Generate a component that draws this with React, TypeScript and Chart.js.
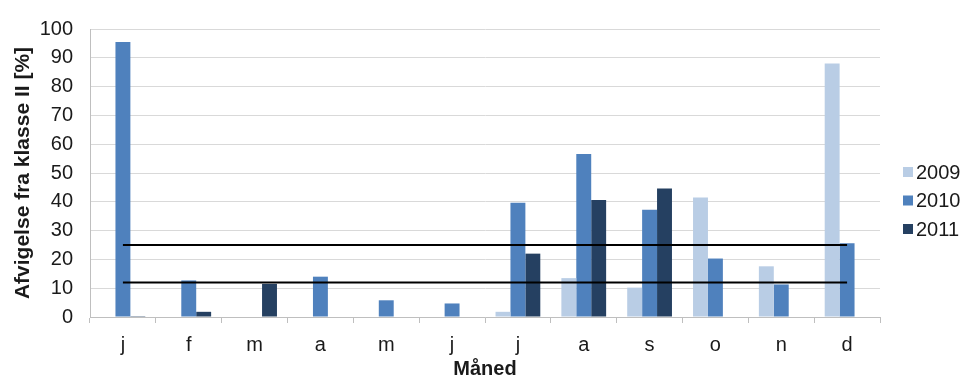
import React, { useEffect, useRef } from "react";
import { Chart, registerables } from "chart.js";

Chart.register(...registerables);

const months = ["j", "f", "m", "a", "m", "j", "j", "a", "s", "o", "n", "d"];
const seriesNames = ["2009", "2010", "2011"];
const v2009 = [null, null, null, null, null, null, 1.8, 13.5, 10.2, 41.5, 17.6, 88];
const v2010 = [95.5, 12.7, null, 14, 5.8, 4.7, 39.7, 56.6, 37.2, 20.3, 11.3, 25.6];
const v2011 = [0.3, 1.8, 11.5, null, null, null, 22, 40.6, 44.6, null, null, null];
const upperLimit = 25;
const lowerLimit = 12;
const colors = ["#B9CDE5", "#4F81BD", "#254061"];

const FONT = "'Liberation Sans', Arial, sans-serif";
const TEXT = "#1a1a1a";

export default function App() {
  const ref = useRef<HTMLCanvasElement | null>(null);

  useEffect(() => {
    document.body.style.margin = "0";
    const canvas = ref.current;
    if (!canvas) return;

    const legendPlugin = {
      id: "customLegend",
      afterDraw(chart: any) {
        const ctx = chart.ctx;
        ctx.save();
        const ys = [172, 200.5, 229];
        chart.data.datasets
          .filter((d: any) => d.type === "bar")
          .forEach((d: any, i: number) => {
            ctx.fillStyle = d.backgroundColor;
            ctx.fillRect(903, ys[i] - 5, 10, 10);
            ctx.fillStyle = TEXT;
            ctx.font = `20px ${FONT}`;
            ctx.textBaseline = "middle";
            ctx.textAlign = "left";
            ctx.fillText(d.label, 916, ys[i] + 1);
          });
        ctx.restore();
      },
    };

    const barSets = [v2009, v2010, v2011].map((vals, i) => ({
      type: "bar" as const,
      label: seriesNames[i],
      data: vals,
      backgroundColor: colors[i],
      categoryPercentage: 0.68,
      barPercentage: 1,
      order: 2,
    }));
    const lineSets = [upperLimit, lowerLimit].map((v) => ({
      type: "line" as const,
      label: "limit " + v,
      data: months.map(() => v),
      borderColor: "#000000",
      borderWidth: 2,
      pointRadius: 0,
      fill: false,
      order: 0,
    }));

    const chart = new Chart(canvas, {
      type: "bar",
      data: { labels: months, datasets: [...barSets, ...lineSets] as any },
      plugins: [legendPlugin],
      options: {
        animation: false,
        responsive: false,
        layout: { padding: { top: 25, right: 83, left: 0, bottom: 0 } },
        plugins: { legend: { display: false }, tooltip: { enabled: false } },
        scales: {
          x: {
            offset: true,
            grid: {
              offset: true,
              drawOnChartArea: false,
              drawTicks: true,
              tickLength: 6,
              color: "#bfbfbf",
            },
            border: { color: "#bfbfbf" },
            ticks: { color: TEXT, font: { family: FONT, size: 20 }, padding: 10 },
            title: {
              display: true,
              text: "Måned",
              color: TEXT,
              font: { family: FONT, size: 20, weight: "bold", lineHeight: 1 },
              padding: { top: 0, bottom: 0 },
            },
            afterFit(scale: any) {
              scale.height = 62;
            },
          },
          y: {
            min: 0,
            max: 100,
            ticks: { stepSize: 10, color: TEXT, font: { family: FONT, size: 20 }, padding: 17 },
            grid: { color: "#d9d9d9", drawTicks: false },
            border: { color: "#bfbfbf" },
            title: {
              display: true,
              text: "Afvigelse fra klasse II [%]",
              color: TEXT,
              font: { family: FONT, size: 21, weight: "bold", lineHeight: 1 },
              padding: { top: 13, bottom: 0 },
            },
            afterFit(scale: any) {
              scale.width = 90;
            },
          },
        },
      } as any,
    });
    return () => chart.destroy();
  }, []);

  return <canvas ref={ref} width={963} height={379} />;
}
